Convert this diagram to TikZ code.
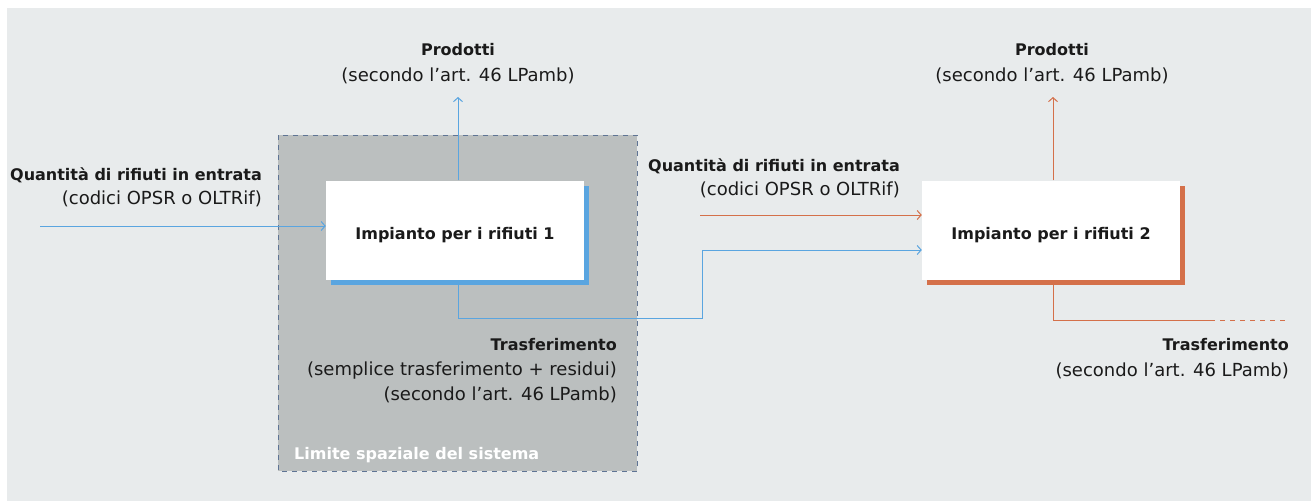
\documentclass[tikz,border=0pt]{standalone}
\usepackage{fontspec}
\setmainfont{DejaVu Sans}
\usetikzlibrary{arrows.meta,shadows}
\definecolor{bg}{HTML}{E8EBEC}
\definecolor{sysgray}{HTML}{BBBFBF}
\definecolor{dashc}{HTML}{5F7494}
\definecolor{bl}{HTML}{5AA5E0}
\definecolor{org}{HTML}{D4704A}
\definecolor{txt}{HTML}{1A1A1A}
\newcommand{\hd}[1]{{\fontsize{16}{25}\selectfont\bfseries #1}}
\begin{document}
\begin{tikzpicture}[x=1pt,y=-1pt,
  every node/.style={text=txt,font=\fontsize{18}{25}\selectfont},
  plant/.style={fill=white,minimum width=258pt,minimum height=99pt,inner sep=0pt,text height=18pt,text depth=0pt,font=\fontsize{16}{18}\selectfont\bfseries},
  blueplant/.style={plant,general shadow={fill=bl,shadow xshift=5pt,shadow yshift=-5pt}},
  orgplant/.style={plant,general shadow={fill=org,shadow xshift=5pt,shadow yshift=-5pt}},
  bflow/.style={draw=bl,line width=1pt},
  oflow/.style={draw=org,line width=1pt},
  tip/.style={-{Straight Barb[length=4pt,width=9pt]}},
  lbl/.style={inner sep=0pt,align=right,anchor=base east},
  lblc/.style={inner sep=0pt,align=center,anchor=base}]
\useasboundingbox (0,0) rectangle (1311,501);
\fill[white] (0,0) rectangle (1311,501);
\fill[bg] (7,8) rectangle (1311,501);
% system boundary
\draw[fill=sysgray,draw=dashc,line width=1pt,dash pattern=on 5pt off 5pt] (278,135) rectangle (637,471);
\node[anchor=base west,inner sep=0pt,text=white,font=\fontsize{16}{18}\selectfont\bfseries] (lim) at (294,459) {Limite spaziale del sistema};
% plants
\node[blueplant] (p1) at (455,230) {Impianto per i rifiuti 1};
\node[orgplant] (p2) at (1051,230) {Impianto per i rifiuti 2};
% coordinates
\coordinate (in1) at (40,226);
\coordinate (up1) at (458,97);
\coordinate (up2) at (1053,97);
\coordinate (in2) at (700,215);
\coordinate (t2a) at (1210,320);
\coordinate (t2b) at (1289,320);
% flows plant 1
\draw[bflow,tip] (in1) -- (p1.west |- in1);
\draw[bflow,tip] (p1.north -| up1) -- (up1);
\draw[bflow,tip] ([yshift=-5pt]p1.south -| up1) |- (702,318) |- (p2.west |- 0,250);
% flows plant 2
\draw[oflow,tip] (in2) -- (p2.west |- in2);
\draw[oflow,tip] (p2.north -| up2) -- (up2);
\draw[oflow] ([yshift=-5pt]p2.south -| up2) |- (t2a);
\draw[oflow,dash pattern=on 5pt off 5pt] (t2a) -- (t2b);
% labels
\node[lbl,font=\fontsize{18}{24}\selectfont] (q1) at (262,204) {\hd{Quantità di rifiuti in entrata}\\(codici OPSR o OLTRif)};
\node[lbl,font=\fontsize{18}{24}\selectfont] (q2) at (900,195) {\hd{Quantità di rifiuti in entrata}\\(codici OPSR o OLTRif)};
\node[lblc,font=\fontsize{18}{26}\selectfont] (pr1) at (458,81) {\hd{Prodotti}\\(secondo l’art. 46 LPamb)};
\node[lblc,font=\fontsize{18}{26}\selectfont] (pr2) at (1052,81) {\hd{Prodotti}\\(secondo l’art. 46 LPamb)};
\node[lbl] (tr1) at (617,400) {\hd{Trasferimento}\\(semplice trasferimento + residui)\\(secondo l’art. 46 LPamb)};
\node[lbl,font=\fontsize{18}{26}\selectfont] (tr2) at (1289,376) {\hd{Trasferimento}\\(secondo l’art. 46 LPamb)};
\end{tikzpicture}
\end{document}
